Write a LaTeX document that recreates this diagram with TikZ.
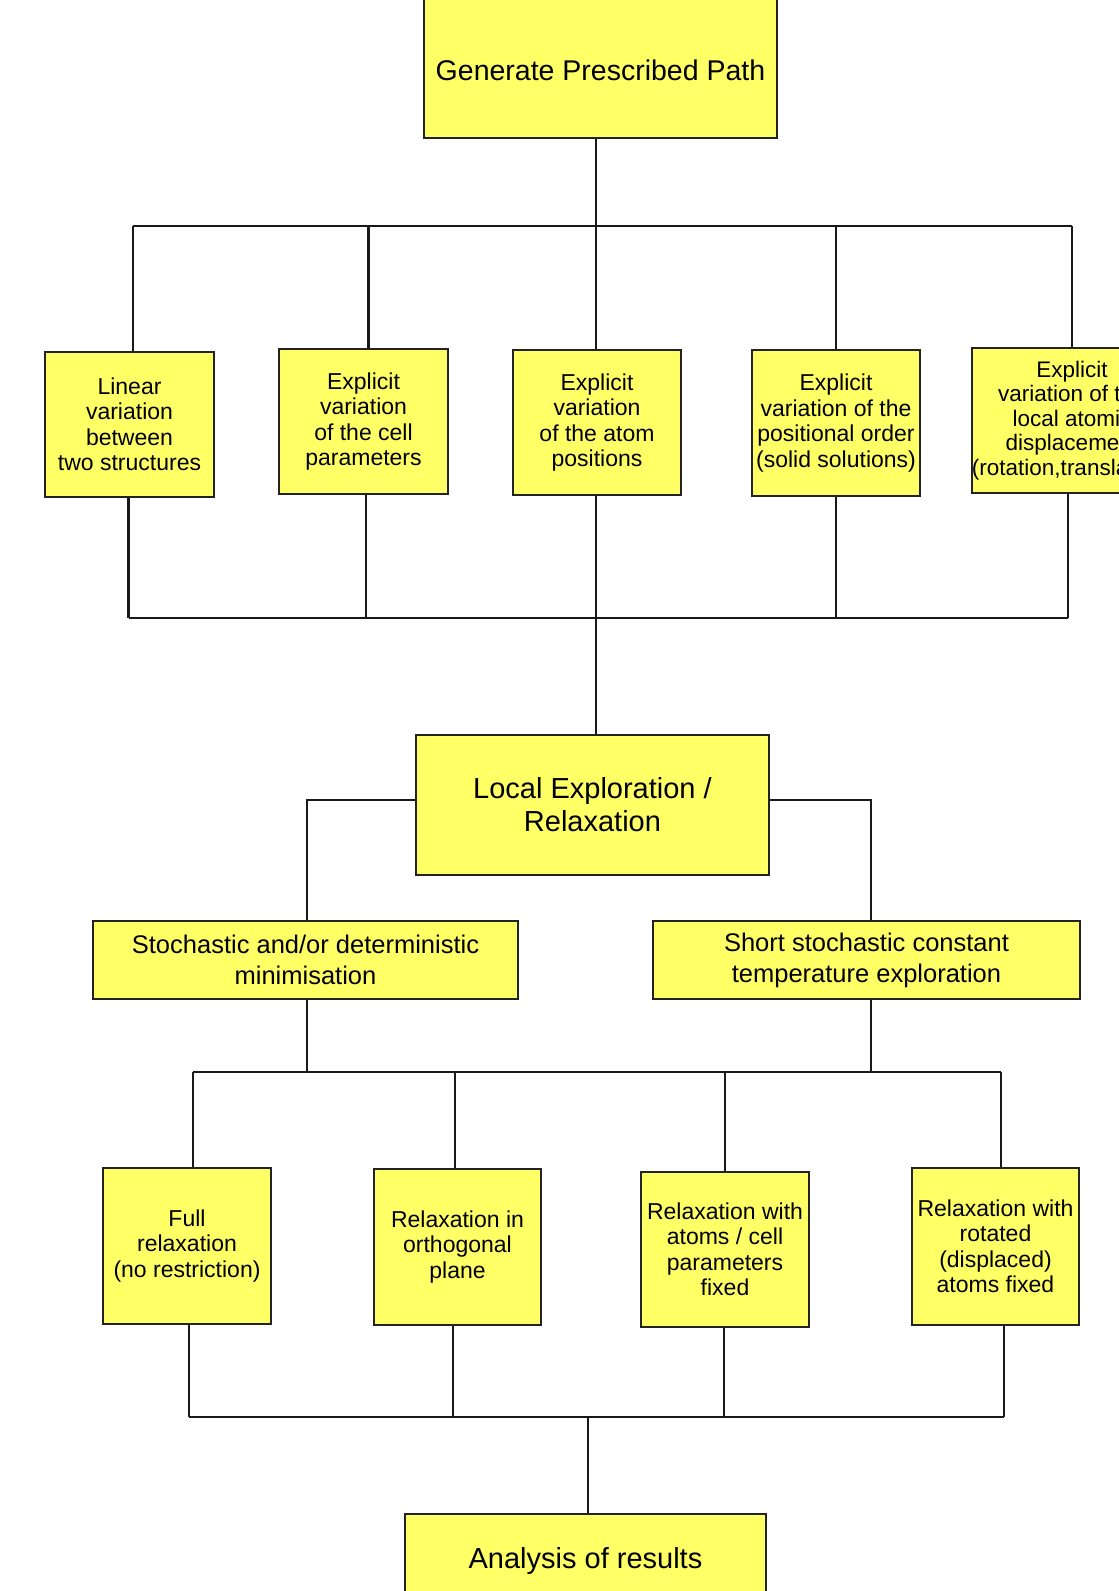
\documentclass[tikz,border=0pt]{standalone}
\usepackage{fontspec}
\setmainfont{Liberation Sans}
\definecolor{boxyellow}{RGB}{255,255,102}
\definecolor{boxline}{RGB}{35,35,35}
\begin{document}
\begin{tikzpicture}[x=1pt,y=-1pt,
  flowbox/.style={draw=boxline,fill=boxyellow,line width=2pt,rectangle,inner sep=0pt,align=center},
  smalltext/.style={font=\fontsize{23}{25.5}\selectfont},
  conn/.style={line width=2.6pt,draw=black!90}]
\useasboundingbox (0,0) rectangle (1119,1591);
\fill[white] (0,0) rectangle (1119,1591);
\clip (0,0) rectangle (1119,1591);

% top (box runs past the top edge; text sits low in it)
\node[flowbox,minimum width=353pt,text height=122pt,text depth=58pt,font=\fontsize{28.5}{32}\selectfont] (top) at (600.5,48) {Generate Prescribed Path};

% row 1
\node[flowbox,smalltext,minimum width=169pt,minimum height=145pt] (r1a) at (129.5,424.5) {Linear\\variation\\between\\two structures};
\node[flowbox,smalltext,minimum width=169pt,minimum height=145pt] (r1b) at (363.5,421.5) {Explicit\\variation\\of the cell\\parameters};
\node[flowbox,smalltext,minimum width=168pt,minimum height=145pt] (r1c) at (597,422.5) {Explicit\\variation\\of the atom\\positions};
\node[flowbox,smalltext,minimum width=168pt,minimum height=146pt] (r1d) at (836,423) {Explicit\\variation of the\\positional order\\(solid solutions)};
\node[flowbox,font=\fontsize{22.5}{24.6}\selectfont,minimum width=180pt,minimum height=145pt] (r1e) at (1072,420.5) {Explicit\\variation of the\\local atomic\\displacement\\(rotation,translation)};

% local exploration
\node[flowbox,font=\fontsize{29}{33}\selectfont,minimum width=353pt,minimum height=140pt] (loc) at (592.5,805) {Local Exploration /\\Relaxation};

% row 2
\node[flowbox,font=\fontsize{25.5}{31}\selectfont,minimum width=425pt,minimum height=78pt] (sto) at (305.5,960) {Stochastic and/or deterministic\\minimisation};
\node[flowbox,font=\fontsize{25.5}{31}\selectfont,minimum width=427pt,minimum height=78pt] (sst) at (866.5,960) {Short stochastic constant\\temperature exploration};

% row 3
\node[flowbox,smalltext,minimum width=168pt,minimum height=156pt] (r3a) at (187,1246) {Full\\relaxation\\(no restriction)};
\node[flowbox,smalltext,minimum width=167pt,minimum height=156pt] (r3b) at (457.5,1247) {Relaxation in\\orthogonal\\plane};
\node[flowbox,smalltext,minimum width=168pt,minimum height=155pt] (r3c) at (725,1249.5) {Relaxation with\\atoms / cell\\parameters\\fixed};
\node[flowbox,smalltext,minimum width=167pt,minimum height=157pt] (r3d) at (995.5,1246.5) {Relaxation with\\rotated\\(displaced)\\atoms fixed};

% analysis (box runs past the bottom edge)
\node[flowbox,font=\fontsize{29}{33}\selectfont,minimum width=361pt,text height=54pt,text depth=100pt,anchor=north] (ana) at (585.5,1513) {Analysis of results};

% bus coordinates
\coordinate (busA) at (0,226);
\coordinate (busB) at (0,618);
\coordinate (busC) at (0,1072);
\coordinate (busD) at (0,1417);
\coordinate (locL) at (307,800);
\coordinate (locR) at (871,800);

% connectors: top to row 1
\draw[conn] ([xshift=-4.5pt]top.south) -- ([xshift=-4.5pt]top.south |- busA);
\draw[conn] ([xshift=3.5pt]r1a.north |- busA) -- (r1e.north |- busA);
\foreach \n/\u/\l in {r1a/3.5/-1,r1b/5/2.5,r1c/-1/-1,r1d/0/0,r1e/0/-4} {
  \draw[conn] ([xshift=\u pt]\n.north |- busA) -- ([xshift=\u pt]\n.north);
  \draw[conn] ([xshift=\l pt]\n.south) -- ([xshift=\l pt]\n.south |- busB);
}
\draw[conn] ([xshift=-1pt]r1a.south |- busB) -- ([xshift=-4pt]r1e.south |- busB);
\draw[conn] ([xshift=3.5pt]loc.north |- busB) -- ([xshift=3.5pt]loc.north);

% local exploration to row 2
\draw[conn] (loc.west |- locL) -- (locL) -- (sto.north -| locL);
\draw[conn] (loc.east |- locR) -- (locR) -- (sst.north -| locR);

% row 2 to row 3
\draw[conn] (sto.south -| locL) -- (busC -| locL);
\draw[conn] (sst.south -| locR) -- (busC -| locR);
\draw[conn] ([xshift=6pt]r3a.north |- busC) -- ([xshift=5.5pt]r3d.north |- busC);
\foreach \n/\u/\l in {r3a/6/2,r3b/-2.5/-4.5,r3c/0/-1,r3d/5.5/8.5} {
  \draw[conn] ([xshift=\u pt]\n.north |- busC) -- ([xshift=\u pt]\n.north);
  \draw[conn] ([xshift=\l pt]\n.south) -- ([xshift=\l pt]\n.south |- busD);
}
\draw[conn] ([xshift=2pt]r3a.south |- busD) -- ([xshift=8.5pt]r3d.south |- busD);
\draw[conn] ([xshift=2.5pt]ana.north |- busD) -- ([xshift=2.5pt]ana.north);
\end{tikzpicture}
\end{document}
